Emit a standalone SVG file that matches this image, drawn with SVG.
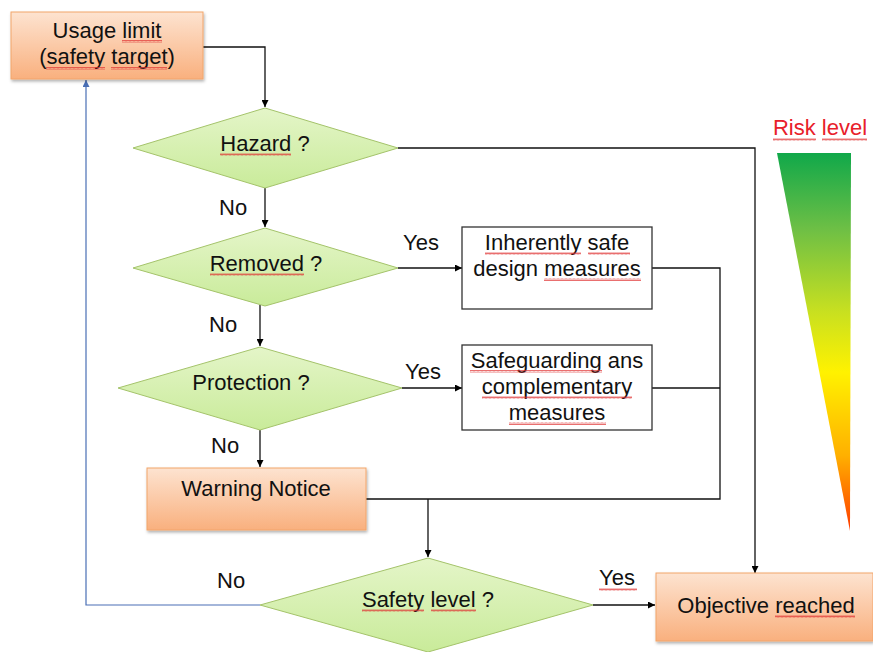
<svg xmlns="http://www.w3.org/2000/svg" width="873" height="652" viewBox="0 0 873 652">
  <defs>
    <linearGradient id="orangeFill" x1="0" y1="0" x2="0" y2="1">
      <stop offset="0" stop-color="#fde3d0"/>
      <stop offset="1" stop-color="#f9b07e"/>
    </linearGradient>
    <linearGradient id="greenFill" x1="0" y1="0" x2="0" y2="1">
      <stop offset="0" stop-color="#e4f5c8"/>
      <stop offset="1" stop-color="#c9eb9a"/>
    </linearGradient>
    <linearGradient id="riskFill" x1="0" y1="0" x2="0" y2="1">
      <stop offset="0" stop-color="#10a84a"/>
      <stop offset="0.2" stop-color="#6dbf45"/>
      <stop offset="0.42" stop-color="#c8e020"/>
      <stop offset="0.58" stop-color="#fff200"/>
      <stop offset="0.8" stop-color="#ffb000"/>
      <stop offset="1" stop-color="#ff3a00"/>
    </linearGradient>
    <filter id="shadow" x="-10%" y="-10%" width="120%" height="130%">
      <feDropShadow dx="1" dy="2" stdDeviation="1.5" flood-color="#000" flood-opacity="0.3"/>
    </filter>
    <!-- spell-check style wavy underline -->
    <pattern id="squiggle" width="4" height="3" patternUnits="userSpaceOnUse">
      <path d="M0,2.5 L1,0.5 L2,2.5 L3,0.5 L4,2.5" fill="none" stroke="#e03030" stroke-width="0.7"/>
    </pattern>
    <marker id="arrow" viewBox="0 0 10 10" refX="10" refY="5" markerWidth="7" markerHeight="7" markerUnits="userSpaceOnUse" orient="auto">
      <path d="M0,0 L10,5 L0,10 z" fill="#000"/>
    </marker>
    <marker id="arrowBlue" viewBox="0 0 10 10" refX="10" refY="5" markerWidth="7" markerHeight="7" markerUnits="userSpaceOnUse" orient="auto">
      <path d="M0,0 L10,5 L0,10 z" fill="#4a6fb5"/>
    </marker>
  </defs>
  <style>
    text { font-family: "Liberation Sans", Arial, sans-serif; font-size: 22px; fill: #111; text-anchor: middle; }
    .term { fill: url(#orangeFill); stroke: #f2a56a; stroke-width: 1; filter: url(#shadow); }
    .decision { fill: url(#greenFill); stroke: #a4c36a; stroke-width: 1; }
    .process { fill: #fff; stroke: #333; stroke-width: 1.3; }
    .conn { fill: none; stroke: #111; stroke-width: 1.3; }
    .back { fill: none; stroke: #4a6fb5; stroke-width: 1.2; }
    .lbl { text-anchor: start; }
    .sq { fill: url(#squiggle); }
  </style>

  <rect width="873" height="652" fill="#fff"/>

  <!-- connectors -->
  <g id="connectors">
    <path class="conn" d="M203,47 H265 V107" marker-end="url(#arrow)"/>
    <path class="conn" d="M398,148 H755 V573" marker-end="url(#arrow)"/>
    <path class="conn" d="M265,188 V227" marker-end="url(#arrow)"/>
    <path class="conn" d="M398,268 H462" marker-end="url(#arrow)"/>
    <path class="conn" d="M260,305 V346" marker-end="url(#arrow)"/>
    <path class="conn" d="M402,388 H462" marker-end="url(#arrow)"/>
    <path class="conn" d="M260,430 V467" marker-end="url(#arrow)"/>
    <path class="conn" d="M652,268 H720 V499 H366"/>
    <path class="conn" d="M652,388 H720"/>
    <path class="conn" d="M428,499 V557" marker-end="url(#arrow)"/>
    <path class="conn" d="M593,605 H655" marker-end="url(#arrow)"/>
    <path class="back" d="M260,605 H86 V80" marker-end="url(#arrowBlue)"/>
    <text class="lbl" x="219" y="215">No</text>
    <text class="lbl" x="403" y="250">Yes</text>
    <text class="lbl" x="209" y="332">No</text>
    <text class="lbl" x="405" y="379">Yes</text>
    <text class="lbl" x="211" y="453">No</text>
    <text class="lbl" x="217" y="588">No</text>
    <text class="lbl" x="599" y="585">Yes</text>
    <rect class="sq" x="599" y="588" width="38" height="3"/>
  </g>

  <g id="usage-limit">
    <rect class="term" x="11" y="12" width="192" height="67"/>
    <text x="107" y="38">Usage limit</text>
    <text x="107" y="64">(safety target)</text>
    <rect class="sq" x="122" y="40" width="40" height="3"/>
    <rect class="sq" x="46" y="67" width="59" height="3"/>
    <rect class="sq" x="111" y="67" width="56" height="3"/>
  </g>

  <g id="hazard">
    <polygon class="decision" points="265,108 398,148 265,188 133,148"/>
    <text x="265" y="151">Hazard ?</text>
    <rect class="sq" x="220" y="153" width="71" height="3"/>
  </g>

  <g id="removed">
    <polygon class="decision" points="265,228 398,268 265,306 133,268"/>
    <text x="266" y="271">Removed ?</text>
    <rect class="sq" x="210" y="273" width="94" height="3"/>
  </g>

  <g id="inherently-safe">
    <rect class="process" x="462" y="227" width="190" height="82"/>
    <text x="557" y="250">Inherently safe</text>
    <text x="557" y="276">design measures</text>
    <rect class="sq" x="485" y="252" width="96" height="3"/>
    <rect class="sq" x="588" y="252" width="42" height="3"/>
    <rect class="sq" x="544" y="278" width="97" height="3"/>
  </g>

  <g id="protection">
    <polygon class="decision" points="260,347 402,388 260,430 118,388"/>
    <text x="251" y="390">Protection ?</text>
  </g>

  <g id="safeguarding">
    <rect class="process" x="462" y="345" width="190" height="85"/>
    <text x="557" y="368">Safeguarding ans</text>
    <text x="557" y="394">complementary</text>
    <text x="557" y="420">measures</text>
    <rect class="sq" x="470" y="370" width="132" height="3"/>
    <rect class="sq" x="482" y="396" width="150" height="3"/>
    <rect class="sq" x="509" y="422" width="97" height="3"/>
  </g>

  <g id="warning-notice">
    <rect class="term" x="147" y="468" width="219" height="62"/>
    <text x="256" y="496">Warning Notice</text>
  </g>

  <g id="safety-level">
    <polygon class="decision" points="428,558 593,605 428,652 260,605"/>
    <text x="428" y="607">Safety level ?</text>
    <rect class="sq" x="362" y="609" width="62" height="3"/>
    <rect class="sq" x="431" y="609" width="45" height="3"/>
  </g>

  <g id="objective-reached">
    <rect class="term" x="656" y="573" width="217" height="68"/>
    <text x="766" y="613">Objective reached</text>
    <rect class="sq" x="775" y="615" width="80" height="3"/>
  </g>

  <g id="risk-level">
    <text x="820" y="135" style="fill:#e8202a">Risk level</text>
    <rect class="sq" x="773" y="138" width="43" height="3"/>
    <rect class="sq" x="822" y="138" width="45" height="3"/>
    <polygon points="777,153 851,153 850,531" fill="url(#riskFill)"/>
  </g>
</svg>
